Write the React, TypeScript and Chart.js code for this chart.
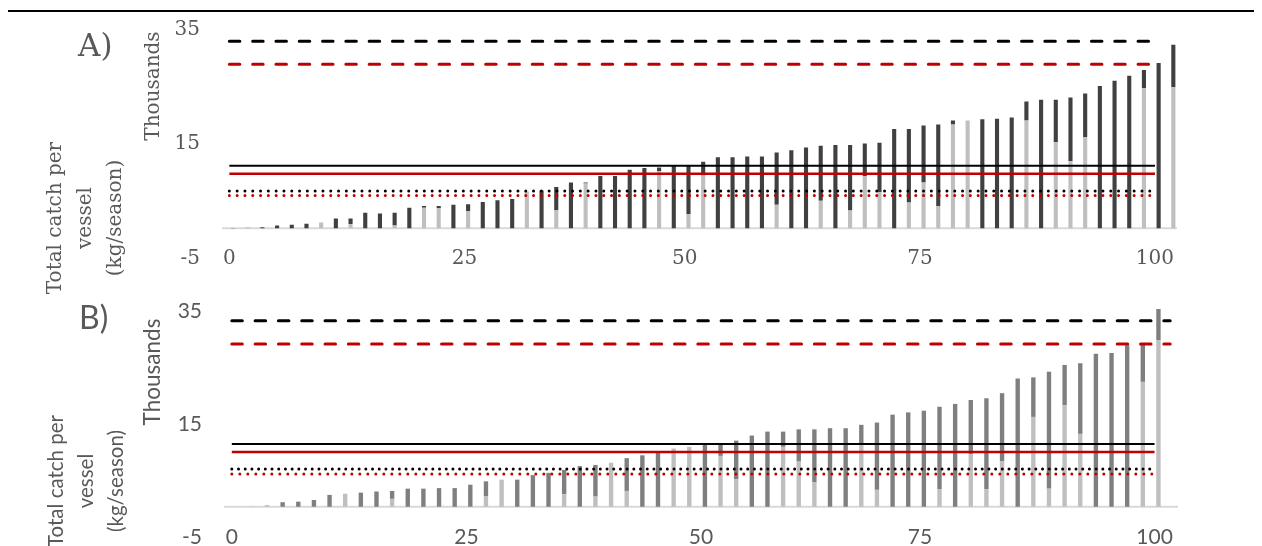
import React, { useEffect, useRef } from "react";
import { Chart, registerables } from "chart.js";

Chart.register(...registerables);

// ---------- data (thousand kg / season) ----------
const xTickLabels = ["0", "25", "50", "75", "100"];
const xTickIndexA = [0, 16, 31, 47, 63];
const xTickIndexB = [0, 15, 30, 44, 59];
const yTickValues = [-5, 15, 35];

// Panel A: light (lower) and dark (upper) segments of each vessel bar
const lightA = [
  0, 0.2, 0, 0, 0, 0, 1.0, 0, 0.75, 0,
  0, 0.5, 0, 3.6, 3.5, 0, 3.0, 0, 0, 0,
  6.4, 0, 3.2, 0, 7.8, 0, 0, 0, 0, 10.0,
  0, 2.5, 9.2, 0, 0, 0, 0, 4.1, 0, 0,
  4.8, 0, 3.1, 9.1, 6.3, 0, 4.5, 8.0, 3.9, 18.1,
  18.8, 0, 0, 0, 18.8, 0, 15.0, 11.7, 15.9, 0,
  0, 0, 24.4, 0, 24.6,
];
const darkA = [
  0.05, 0, 0.2, 0.5, 0.6, 0.8, 0, 1.7, 0.95, 2.7,
  2.6, 2.2, 3.6, 0.3, 0.4, 4.1, 1.2, 4.6, 4.9, 5.1,
  0, 6.6, 4.0, 8.0, 0.2, 9.1, 9.1, 10.2, 10.5, 0.6,
  10.9, 8.4, 2.4, 12.4, 12.4, 12.5, 12.5, 9.1, 13.6, 14.1,
  9.6, 14.5, 11.4, 5.7, 8.6, 17.3, 12.8, 9.9, 14.2, 0.7,
  0, 19.0, 19.1, 19.3, 3.3, 22.4, 7.4, 11.1, 7.6, 24.8,
  25.7, 26.6, 3.2, 28.8, 7.4,
];

// Panel B
const lightB = [
  0, 0.05, 0.3, 0, 0, 0, 0, 2.3, 0, 0,
  1.4, 0, 0, 0, 0, 0, 1.9, 4.8, 0, 0,
  0, 2.2, 0, 1.8, 7.8, 2.8, 0, 0, 10.3, 10.6,
  0, 9.0, 4.9, 0, 0, 10.6, 8.0, 4.3, 0, 0,
  10.9, 3.0, 0, 0, 0, 3.1, 0, 9.3, 3.1, 8.1,
  0, 15.9, 3.2, 18.0, 12.9, 0, 0, 0, 22.1, 29.5,
  0,
];
const darkB = [
  0, 0, 0, 0.8, 0.9, 1.2, 2.1, 0, 2.5, 2.7,
  1.4, 3.2, 3.2, 3.3, 3.3, 3.9, 2.6, 0, 4.8, 5.6,
  6.0, 4.3, 7.2, 5.6, 0, 5.8, 9.1, 9.6, 0, 0,
  11.2, 2.2, 6.8, 12.6, 13.3, 2.7, 5.7, 9.4, 13.9, 13.9,
  3.6, 11.9, 16.3, 16.7, 17.0, 14.6, 18.2, 9.6, 16.1, 12.0,
  22.7, 7.0, 20.7, 7.1, 12.5, 27.1, 27.2, 28.6, 6.7, 5.5,
  0,
];

// Reference lines: black dashed, red dashed, black solid, red solid, black dotted, red dotted
const refValuesA = [32.6, 28.6, 10.9, 9.5, 6.5, 5.7];
const refEndA = [63, 63, 63, 63, 63, 63];
const refValuesB = [32.9, 28.8, 11.1, 9.7, 6.7, 5.8];
const refEndB = [60, 60, 59, 59, 59, 59];

// ---------- styles ----------
const refStyles = [
  { color: "#000000", width: 3, dash: [10.5, 12.8] },
  { color: "#c00000", width: 3, dash: [10.5, 12.8] },
  { color: "#000000", width: 2, dash: [] as number[] },
  { color: "#c00000", width: 2.5, dash: [] as number[] },
  { color: "#000000", width: 3, dash: [0, 7.8] },
  { color: "#c00000", width: 3, dash: [0, 7.8] },
];

const TEXT = "#595959";

type Panel = {
  light: number[];
  dark: number[];
  tickIndex: number[];
  refValues: number[];
  refEnd: number[];
  darkColor: string;
  font: string;
  tickSize: number;
  top: number;
  height: number;
  area: { left: number; right: number; top: number; bottom: number };
  dotGap: number[];
};

const SERIF = "'DejaVu Serif', serif";
const SANS = "Lato, 'Open Sans', sans-serif";

const panels: Panel[] = [
  {
    light: lightA,
    dark: darkA,
    tickIndex: xTickIndexA,
    refValues: refValuesA,
    refEnd: refEndA,
    darkColor: "#404040",
    font: SERIF,
    tickSize: 20,
    top: 0,
    height: 280,
    area: { left: 222, right: 1177, top: 27.5, bottom: 257 },
    dotGap: [7.8, 7.8],
  },
  {
    light: lightB,
    dark: darkB,
    tickIndex: xTickIndexB,
    refValues: refValuesB,
    refEnd: refEndB,
    darkColor: "#7f7f7f",
    font: SANS,
    tickSize: 21,
    top: 280,
    height: 266,
    area: { left: 224, right: 1178, top: 29, bottom: 255 },
    dotGap: [6.7, 8],
  },
];

const baselinePlugin = {
  id: "baseline",
  beforeDatasetsDraw(chart: any) {
    const { ctx, chartArea, scales } = chart;
    const y = scales.y.getPixelForValue(0);
    ctx.save();
    ctx.strokeStyle = "#d9d9d9";
    ctx.lineWidth = 2;
    ctx.beginPath();
    ctx.moveTo(chartArea.left, y);
    ctx.lineTo(chartArea.right, y);
    ctx.stroke();
    ctx.restore();
  },
};

function PanelChart({ p }: { p: Panel }) {
  const ref = useRef<HTMLCanvasElement>(null);
  useEffect(() => {
    const canvas = ref.current;
    if (!canvas) return;
    const n = p.light.length;
    const labels: string[] = new Array(n).fill("");
    p.tickIndex.forEach((idx, i) => {
      labels[idx] = xTickLabels[i];
    });
    // axis labels drawn from the scales (Excel-like placement)
    const axisLabelPlugin = {
      id: "axislabels",
      afterDraw(chart: any) {
        const { ctx, scales, chartArea } = chart;
        ctx.save();
        ctx.fillStyle = TEXT;
        ctx.font = `${p.tickSize}px ${p.font}`;
        ctx.textBaseline = "middle";
        ctx.textAlign = "right";
        yTickValues.forEach((v) => {
          ctx.fillText(String(v), chartArea.left - 22, scales.y.getPixelForValue(v) + 2);
        });
        ctx.textAlign = "center";
        const y = scales.y.getPixelForValue(-5) + 2;
        p.tickIndex.forEach((idx, i) => {
          ctx.fillText(xTickLabels[i], scales.x.getPixelForValue(idx), y);
        });
        ctx.restore();
      },
    };
    const lineSets = p.refValues.map((v, i) => {
      const st = refStyles[i];
      const dotted = i >= 4;
      return {
        type: "line" as const,
        data: [
          { x: 0, y: v },
          { x: p.refEnd[i], y: v },
        ],
        xAxisID: "xl",
        yAxisID: "y",
        borderColor: st.color,
        borderWidth: st.width,
        borderDash: dotted ? [0, p.dotGap[i - 4]] : st.dash,
        borderCapStyle: st.dash.length ? ("round" as const) : ("butt" as const),
        pointRadius: 0,
        fill: false,
        order: 0,
      };
    });
    const chart = new Chart(canvas, {
      data: {
        labels,
        datasets: [
          ...lineSets,
          {
            type: "bar" as const,
            data: p.light,
            backgroundColor: "#bfbfbf",
            stack: "s",
            xAxisID: "x",
            yAxisID: "y",
            barPercentage: 0.56,
            categoryPercentage: 1,
            order: 1,
          },
          {
            type: "bar" as const,
            data: p.dark,
            backgroundColor: p.darkColor,
            stack: "s",
            xAxisID: "x",
            yAxisID: "y",
            barPercentage: 0.56,
            categoryPercentage: 1,
            order: 1,
          },
        ] as any,
      },
      options: {
        animation: false,
        responsive: false,
        maintainAspectRatio: false,
        layout: {
          padding: {
            left: p.area.left,
            right: 1262 - p.area.right,
            top: p.area.top,
            bottom: p.height - p.area.bottom,
          },
        },
        plugins: {
          legend: { display: false },
          tooltip: { enabled: false },
        },
        scales: {
          x: { type: "category", display: false },
          xl: { type: "linear", display: false, min: -0.5, max: n - 0.5 },
          y: { type: "linear", display: false, min: -5, max: 35 },
        },
      } as any,
      plugins: [baselinePlugin, axisLabelPlugin],
    });
    return () => chart.destroy();
  }, []);
  return (
    <canvas
      ref={ref}
      width={1262}
      height={p.height}
      style={{ position: "absolute", left: 0, top: p.top, width: 1262, height: p.height }}
    />
  );
}

const vText = (
  cx: number,
  cy: number,
  lines: string[],
  font: string,
  size: number,
  lh: number
) => (
  <div
    style={{
      position: "absolute",
      left: cx,
      top: cy,
      transform: "translate(-50%, -50%) rotate(-90deg)",
      whiteSpace: "nowrap",
      textAlign: "center",
      fontFamily: font,
      fontSize: size,
      lineHeight: lh + "px",
      color: TEXT,
    }}
  >
    {lines.map((l, i) => (
      <div key={i}>{l}</div>
    ))}
  </div>
);

export default function App() {
  return (
    <div style={{ position: "absolute", left: 0, top: 0, width: 1262, height: 546, background: "#fff", overflow: "hidden" }}>
      <div style={{ position: "absolute", left: 8, top: 10, width: 1246, height: 2, background: "#000" }} />
      {panels.map((p, i) => (
        <PanelChart key={i} p={p} />
      ))}
      <div style={{ position: "absolute", left: 78, top: 25, fontFamily: SERIF, fontSize: 31, lineHeight: "40px", color: TEXT }}>A)</div>
      {vText(152, 86, ["Thousands"], SERIF, 20, 24)}
      {vText(84, 218, ["Total catch per", "vessel", "(kg/season)"], SERIF, 20, 30)}
      <div style={{ position: "absolute", left: 79, top: 297, fontFamily: SANS, fontSize: 32, lineHeight: "40px", color: TEXT }}>B)</div>
      {vText(152, 372, ["Thousands"], SANS, 22.5, 24)}
      {vText(85, 481, ["Total catch per", "vessel", "(kg/season)"], SANS, 20.5, 30)}
    </div>
  );
}
